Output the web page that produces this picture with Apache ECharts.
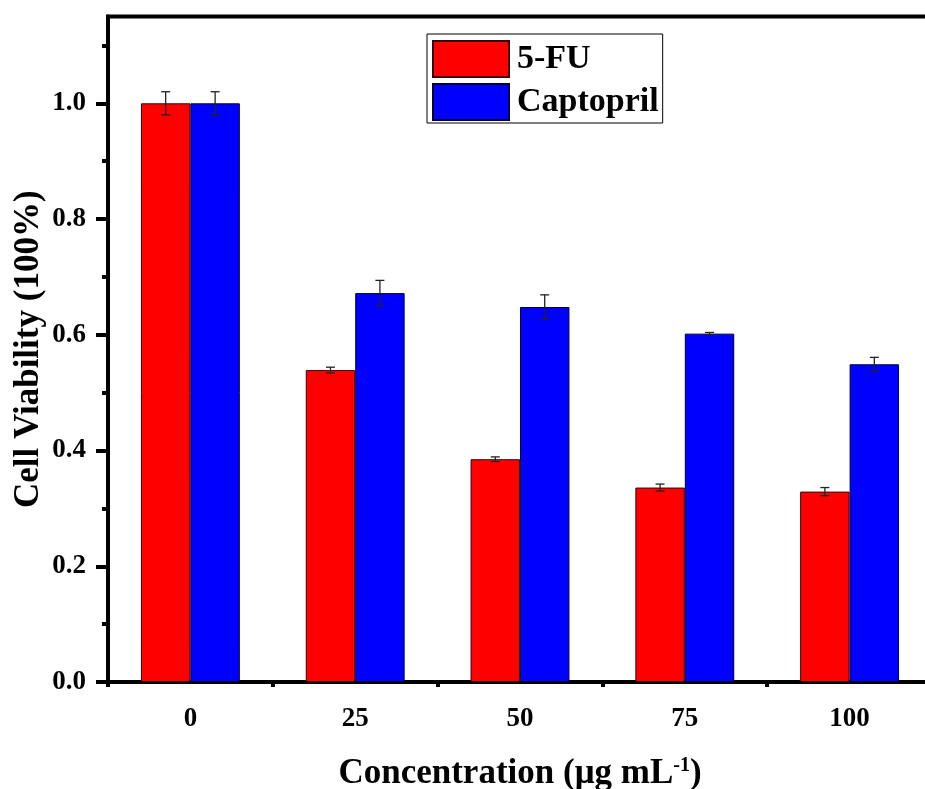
<!DOCTYPE html>
<html>
<head>
<meta charset="utf-8">
<script src="https://cdn.jsdelivr.net/npm/echarts@6/dist/echarts.min.js"></script>
<style>
  html, body { margin: 0; padding: 0; background: #fff; }
  #chart { width: 925px; height: 789px; }
</style>
</head>
<body>
<div id="chart"></div>
<script>
// Cell viability of cells treated with 5-FU and Captopril at several concentrations
const concentrations = ['0', '25', '50', '75', '100'];
const fuViability = [1.0, 0.539, 0.385, 0.336, 0.329];
const fuError = [0.02, 0.005, 0.004, 0.006, 0.007];
const captoprilViability = [1.0, 0.672, 0.648, 0.602, 0.549];
const captoprilError = [0.02, 0.022, 0.021, 0.002, 0.012];
const yMajorTicks = [0, 0.2, 0.4, 0.6, 0.8, 1.0];
const yMinorTicks = [0.1, 0.3, 0.5, 0.7, 0.9, 1.1];

const FONT = '"Liberation Serif", "Times New Roman", serif';
const BAR_GAP_RATIO = 0.4;          // barCategoryGap
const BAR_SHARE = (1 - BAR_GAP_RATIO) / 2;

// error bar renderer; side = -1 for the left bar, +1 for the right bar
function errorBars(side) {
  return function (params, api) {
    const idx = api.value(0);
    const v = api.value(1);
    const e = api.value(2);
    const band = api.size([1, 0])[0];
    const dx = side * band * BAR_SHARE / 2;
    const hi = api.coord([idx, v + e]);
    const lo = api.coord([idx, v - e]);
    const x = hi[0] + dx;
    const cap = 4.5;
    const style = { stroke: '#222', lineWidth: 1.3 };
    return {
      type: 'group',
      children: [
        { type: 'line', shape: { x1: x, y1: hi[1], x2: x, y2: lo[1] }, style },
        { type: 'line', shape: { x1: x - cap, y1: hi[1], x2: x + cap, y2: hi[1] }, style },
        { type: 'line', shape: { x1: x - cap, y1: lo[1], x2: x + cap, y2: lo[1] }, style }
      ]
    };
  };
}

const chart = echarts.init(document.getElementById('chart'), null, { renderer: 'canvas' });

chart.setOption({
  animation: false,
  backgroundColor: '#fff',
  textStyle: { fontFamily: FONT },
  grid: {
    left: 108, top: 16.5, bottom: 107, right: -7,
    outerBoundsMode: 'none',
    containLabel: false,
    show: true, borderColor: '#000', borderWidth: 4, backgroundColor: 'transparent'
  },
  legend: {
    left: 427, top: 34,
    orient: 'vertical',
    icon: 'rect',
    data: ['5-FU', 'Captopril'],
    itemWidth: 76, itemHeight: 36, itemGap: 5,
    padding: [6, 4, 2, 5],
    borderColor: '#000', borderWidth: 1,
    textStyle: { fontFamily: FONT, fontWeight: 'bold', fontSize: 34, color: '#000', padding: [0, 0, 0, 3] }
  },
  xAxis: [
    {
      type: 'category',
      data: concentrations,
      name: 'Concentration (μg mL{sup|-1})',
      nameLocation: 'middle',
      nameGap: 74,
      nameMoveOverlap: false,
      nameTextStyle: {
        fontFamily: FONT, fontWeight: 'bold', fontSize: 35, color: '#000',
        rich: { sup: { fontFamily: FONT, fontWeight: 'bold', fontSize: 20, color: '#000', verticalAlign: 'top', padding: [0, 0, 14, 0] } }
      },
      axisLine: { lineStyle: { color: '#000', width: 4 } },
      axisTick: { alignWithLabel: true, length: 10, lineStyle: { color: '#000', width: 4 } },
      axisLabel: { margin: 24, fontFamily: FONT, fontWeight: 'bold', fontSize: 27, color: '#000' },
      splitLine: { show: false }
    },
    {
      type: 'category',
      data: concentrations,
      position: 'bottom',
      axisLine: { show: false },
      axisTick: { show: true, length: 5, lineStyle: { color: '#000', width: 4 } },
      axisLabel: { show: false },
      splitLine: { show: false }
    }
  ],
  yAxis: [
    {
      type: 'value',
      min: 0, max: 1.15,
      name: 'Cell Viability (100%)',
      nameLocation: 'middle',
      nameGap: 62,
      nameMoveOverlap: false,
      nameTextStyle: { fontFamily: FONT, fontWeight: 'bold', fontSize: 35, color: '#000' },
      axisLine: { show: true, lineStyle: { color: '#000', width: 4 } },
      axisTick: { show: true, length: 12, customValues: yMajorTicks, lineStyle: { color: '#000', width: 4 } },
      axisLabel: {
        margin: 22, customValues: yMajorTicks,
        fontFamily: FONT, fontWeight: 'bold', fontSize: 27, color: '#000',
        formatter: v => v.toFixed(1)
      },
      splitLine: { show: false }
    },
    {
      type: 'value',
      min: 0, max: 1.15,
      position: 'left',
      axisLine: { show: false },
      axisTick: { show: true, length: 6, customValues: yMinorTicks, lineStyle: { color: '#000', width: 4 } },
      axisLabel: { show: false },
      splitLine: { show: false }
    }
  ],
  series: [
    {
      name: '5-FU',
      type: 'bar',
      data: fuViability,
      barGap: '0%',
      barCategoryGap: (BAR_GAP_RATIO * 100) + '%',
      itemStyle: { color: '#FF0000', borderColor: '#3a0000', borderWidth: 1 }
    },
    {
      name: 'Captopril',
      type: 'bar',
      data: captoprilViability,
      barGap: '0%',
      barCategoryGap: (BAR_GAP_RATIO * 100) + '%',
      itemStyle: { color: '#0000FF', borderColor: '#00003a', borderWidth: 1 }
    },
    {
      type: 'custom',
      renderItem: errorBars(-1),
      encode: { x: 0, y: 1 },
      data: fuViability.map((v, i) => [i, v, fuError[i]]),
      z: 5
    },
    {
      type: 'custom',
      renderItem: errorBars(1),
      encode: { x: 0, y: 1 },
      data: captoprilViability.map((v, i) => [i, v, captoprilError[i]]),
      z: 5
    }
  ]
});
</script>
</body>
</html>
